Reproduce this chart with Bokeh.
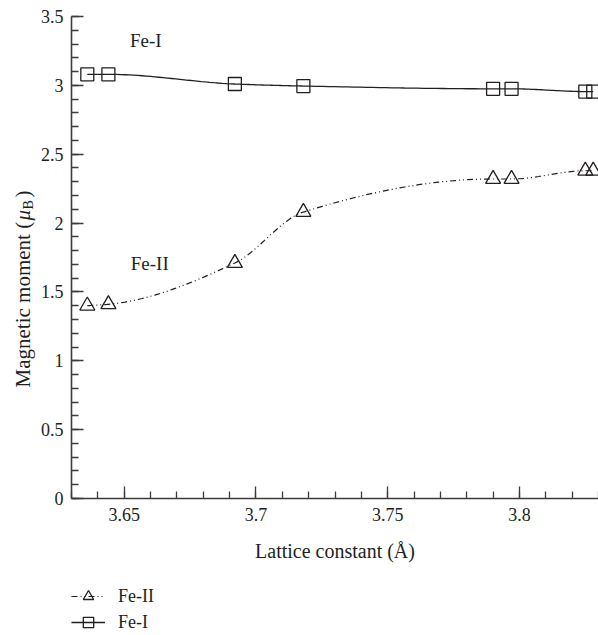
import numpy as np
from math import pi
from bokeh.plotting import figure
from bokeh.layouts import column, row
from bokeh.models import (Range1d, SingleIntervalTicker, CustomJSTickFormatter,
                          Legend, LegendItem, Label)
from bokeh.core.properties import value
from bokeh.embed import file_html
from bokeh.resources import INLINE

# ---- data ----
lattice = [3.636, 3.644, 3.692, 3.718, 3.790, 3.797, 3.825, 3.828]
fe1_moment = [3.08, 3.08, 3.01, 2.995, 2.975, 2.975, 2.955, 2.955]
fe2_moment = [1.40, 1.41, 1.71, 2.08, 2.32, 2.32, 2.38, 2.38]
series_names = ["Fe-II", "Fe-I"]
x_title = "Lattice constant (Å)"
y_title_parts = ["Magnetic moment (", "μ", "B", ")"]

INK = "#231f20"
AXC = "#3c3c3c"
SERIF = "Liberation Serif"


def pchip(x, y, n_per=30):
    """Monotone cubic (PCHIP) curve through the data points."""
    x = np.asarray(x, float)
    y = np.asarray(y, float)
    h = np.diff(x)
    delta = np.diff(y) / h
    n = len(x)
    d = np.zeros(n)
    for k in range(1, n - 1):
        if delta[k - 1] * delta[k] > 0:
            w1 = 2 * h[k] + h[k - 1]
            w2 = h[k] + 2 * h[k - 1]
            d[k] = (w1 + w2) / (w1 / delta[k - 1] + w2 / delta[k])
    d[0] = delta[0]
    d[-1] = delta[-1]
    xs, ys = [], []
    for k in range(n - 1):
        t = np.linspace(0, 1, n_per, endpoint=(k == n - 2))
        h00 = 2 * t**3 - 3 * t**2 + 1
        h10 = t**3 - 2 * t**2 + t
        h01 = -2 * t**3 + 3 * t**2
        h11 = t**3 - t**2
        xs.append(x[k] + t * h[k])
        ys.append(h00 * y[k] + h10 * h[k] * d[k] + h01 * y[k + 1] + h11 * h[k] * d[k + 1])
    return np.concatenate(xs), np.concatenate(ys)


LINE2 = dict(line_color=INK, line_width=1.2, line_dash="6 3 1 3 1 3")
LINE1 = dict(line_color=INK, line_width=1.3)
TRI = dict(marker="triangle", size=15, fill_color=None, line_color=INK, line_width=1.3)
SQ = dict(marker="square", size=13, fill_color=None, line_color=INK, line_width=1.3)

MAIN_H = 572
TOP = 16
BOT = MAIN_H - TOP - 482

# ---------------- main plot ----------------
p = figure(width=562, height=MAIN_H, output_backend="svg", toolbar_location=None,
           x_range=Range1d(3.63, 3.83), y_range=Range1d(0, 3.5),
           min_border_left=35, min_border_right=0, min_border_top=TOP,
           min_border_bottom=BOT)
p.outline_line_color = None
p.grid.visible = False

fmt = CustomJSTickFormatter(code="return String(Math.round(tick*100)/100);")
p.xaxis.ticker = SingleIntervalTicker(interval=0.05, num_minor_ticks=5)
p.yaxis.ticker = SingleIntervalTicker(interval=0.5, num_minor_ticks=5)
for ax in (p.xaxis, p.yaxis):
    ax.formatter = fmt
    ax.major_tick_in = 12
    ax.major_tick_out = 0
    ax.minor_tick_in = 7
    ax.minor_tick_out = 0
    ax.axis_line_color = AXC
    ax.axis_line_width = 1.6
    ax.major_tick_line_color = AXC
    ax.minor_tick_line_color = AXC
    ax.major_tick_line_width = 1.3
    ax.minor_tick_line_width = 1.3
    ax.major_label_text_font = SERIF
    ax.major_label_text_font_size = "18px"
    ax.major_label_text_color = INK
p.xaxis.major_label_standoff = 9
p.yaxis.major_label_standoff = 8
p.xaxis.axis_label = x_title
p.xaxis.axis_label_text_font = SERIF
p.xaxis.axis_label_text_font_style = "normal"
p.xaxis.axis_label_text_font_size = "20px"
p.xaxis.axis_label_text_color = INK
p.xaxis.axis_label_standoff = 16

x1, y1 = pchip(lattice, fe1_moment)
x2, y2 = pchip(lattice, fe2_moment)
p.line(x2, y2, **LINE2)
p.scatter(lattice, fe2_moment, **TRI)
p.line(x1, y1, **LINE1)
p.scatter(lattice, fe1_moment, **SQ)

p.add_layout(Label(x=3.6522, y=3.25, text=series_names[1], text_font=SERIF,
                   text_font_size="19px", text_color=INK))
p.add_layout(Label(x=3.6525, y=1.63, text=series_names[0], text_font=SERIF,
                   text_font_size="19px", text_color=INK))

# ---------------- y-axis title strip (same vertical frame as the plot) ----------------
yt = figure(width=36, height=MAIN_H, output_backend="svg", toolbar_location=None,
            x_range=Range1d(0, 36), y_range=Range1d(0, 3.5),
            min_border_left=0, min_border_right=0, min_border_top=TOP,
            min_border_bottom=BOT)
yt.axis.visible = False
yt.grid.visible = False
yt.outline_line_color = None
tf = value(SERIF)
PX = 3.5 / 482.0  # moment units per pixel, used only to chain the title pieces
y0 = 0.806
yt.text(x=[22], y=[y0], text=[y_title_parts[0]], angle=pi / 2,
        text_font=tf, text_font_size="21px", text_color=INK,
        text_align="left", text_baseline="alphabetic")
yt.text(x=[22], y=[y0 + 167 * PX], text=[y_title_parts[1]], angle=pi / 2,
        text_font=tf, text_font_size="21px", text_font_style="italic", text_color=INK,
        text_align="left", text_baseline="alphabetic")
yt.text(x=[27.5], y=[y0 + 178 * PX], text=[y_title_parts[2]], angle=pi / 2,
        text_font=tf, text_font_size="14px", text_color=INK,
        text_align="left", text_baseline="alphabetic")
yt.text(x=[22], y=[y0 + 190 * PX], text=[y_title_parts[3]], angle=pi / 2,
        text_font=tf, text_font_size="21px", text_color=INK,
        text_align="left", text_baseline="alphabetic")

# ---------------- legend strip ----------------
LEG_H = 635 - MAIN_H
lg = figure(width=598, height=LEG_H, output_backend="svg", toolbar_location=None,
            x_range=Range1d(0, 598), y_range=Range1d(0, LEG_H), min_border=0)
lg.axis.visible = False
lg.grid.visible = False
lg.outline_line_color = None
far = [-100, -90]
dl2 = lg.line(far, far, **LINE2)
dm2 = lg.scatter(far, far, **TRI)
dl1 = lg.line(far, far, **LINE1)
dm1 = lg.scatter(far, far, **SQ)
legend = Legend(items=[LegendItem(label=series_names[0], renderers=[dl2, dm2]),
                       LegendItem(label=series_names[1], renderers=[dl1, dm1])],
                location=(71, 0), orientation="vertical",
                glyph_width=34, glyph_height=26, label_standoff=13, spacing=0,
                padding=0, margin=0, border_line_color=None,
                background_fill_alpha=0,
                label_text_font=SERIF, label_text_font_size="18px",
                label_text_color=INK)
lg.add_layout(legend, "center")

layout = column(row(yt, p, spacing=0), lg, spacing=0)
open("out.html", "w").write(file_html(layout, INLINE))
